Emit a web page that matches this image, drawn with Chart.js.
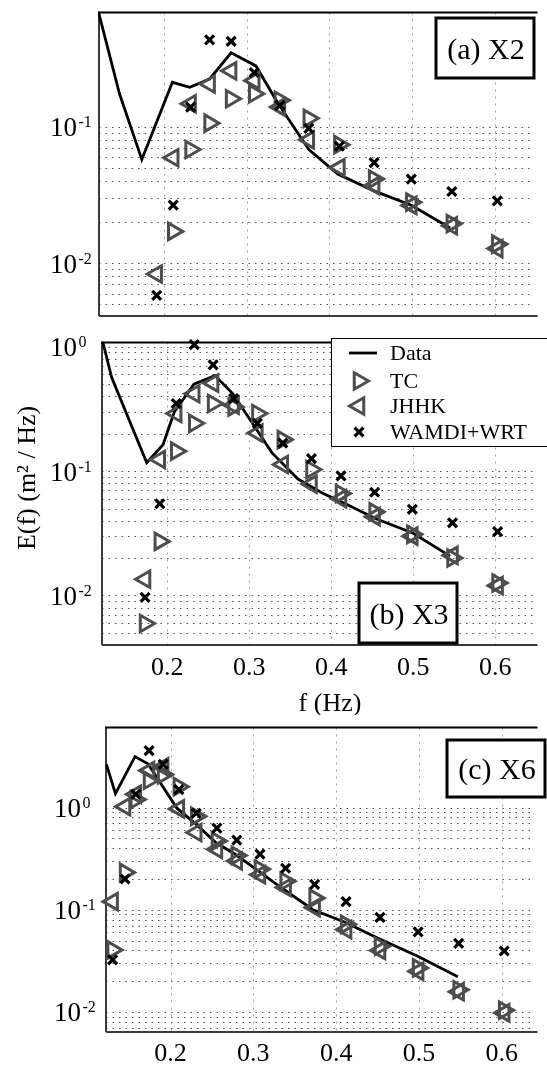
<!DOCTYPE html>
<html><head><meta charset="utf-8">
<script src="https://cdn.jsdelivr.net/npm/chart.js@4.4.0/dist/chart.umd.min.js"></script>
<style>
html,body{margin:0;padding:0;background:#fff;}
#wrap{position:relative;width:547px;height:1068px;overflow:hidden;background:#fff;}
canvas{position:absolute;left:0;}
</style></head><body>
<div id="wrap">
<canvas id="ca" width="547" height="330" style="top:0px;width:547px;height:330px"></canvas>
<canvas id="cb" width="547" height="385" style="top:330px;width:547px;height:385px"></canvas>
<canvas id="cc" width="547" height="353" style="top:715px;width:547px;height:353px"></canvas>
</div>
<script>
// ---------- shared ----------
const seriesNames = ['Data', 'TC', 'JHHK', 'WAMDI+WRT'];
const xTicks = [0.2, 0.3, 0.4, 0.5, 0.6];
const xTickLabels = ['0.2', '0.3', '0.4', '0.5', '0.6'];
const xTitle = 'f (Hz)';
const yTitle = 'E(f) (m\u00B2 / Hz)';

// ---------- panel (a) X2 ----------
const fLineA = [0.1203, 0.146, 0.173, 0.210, 0.231, 0.255, 0.281, 0.311, 0.338, 0.375, 0.410, 0.453, 0.499, 0.546];
const eLineA = [0.70, 0.174, 0.0575, 0.211, 0.194, 0.223, 0.347, 0.278, 0.147, 0.068, 0.0449, 0.034, 0.0266, 0.0181];
const fA  = [0.191, 0.211, 0.232, 0.255, 0.281, 0.309, 0.340, 0.375, 0.412, 0.454, 0.499, 0.548, 0.603];
const tcA = [null, 0.0171, 0.068, 0.106, 0.160, 0.174, 0.156, 0.115, 0.0738, 0.0413, 0.028, 0.0195, 0.0138];
const jhA = [0.00834, 0.0592, 0.147, 0.205, 0.256, 0.217, 0.139, 0.080, 0.0501, 0.037, 0.0265, 0.0188, 0.0128];
const wwA = [0.00582, 0.0266, 0.139, 0.431, 0.421, 0.249, 0.143, 0.097, 0.0718, 0.0545, 0.0413, 0.0335, 0.0286];
const yTicksA = [0.01, 0.1];

// ---------- panel (b) X3 ----------
const fLineB = [0.1214, 0.1322, 0.152, 0.175, 0.1949, 0.2088, 0.2326, 0.2583, 0.2802, 0.304, 0.3279, 0.3595, 0.391, 0.413, 0.454, 0.500, 0.545];
const eLineB = [1.1, 0.567, 0.273, 0.117, 0.163, 0.30, 0.50, 0.585, 0.418, 0.242, 0.140, 0.0863, 0.0656, 0.0563, 0.0416, 0.0316, 0.0207];
const fB  = [0.173, 0.191, 0.211, 0.233, 0.256, 0.281, 0.310, 0.341, 0.376, 0.412, 0.453, 0.499, 0.548, 0.603];
const tcB = [0.00596, 0.0272, 0.1445, 0.242, 0.349, 0.328, 0.29, 0.179, 0.103, 0.066, 0.047, 0.031, 0.020, 0.0126];
const jhB = [0.0135, 0.124, 0.29, 0.418, 0.509, 0.338, 0.202, 0.113, 0.0786, 0.060, 0.043, 0.030, 0.021, 0.012];
const wwB = [0.00966, 0.0546, 0.349, 1.04, 0.714, 0.382, 0.242, 0.168, 0.126, 0.0916, 0.0676, 0.0493, 0.0384, 0.0326];
const yTicksB = [0.01, 0.1, 1];

// ---------- panel (c) X6 ----------
const fLineC = [0.1225, 0.1334, 0.157, 0.1726, 0.2079, 0.2314, 0.2549, 0.278, 0.306, 0.333, 0.372, 0.410, 0.450, 0.498, 0.547];
const eLineC = [2.65, 1.37, 3.15, 2.68, 0.98, 0.68, 0.452, 0.349, 0.24, 0.166, 0.100, 0.076, 0.053, 0.0353, 0.0221];
const fC  = [0.130, 0.145, 0.158, 0.174, 0.191, 0.210, 0.231, 0.256, 0.280, 0.308, 0.339, 0.374, 0.412, 0.453, 0.499, 0.548, 0.603];
const tcC = [0.0405, 0.232, 1.2, 1.85, 2.1, 1.6, 0.82, 0.47, 0.34, 0.25, 0.19, 0.13, 0.072, 0.044, 0.027, 0.0165, 0.0104];
const jhC = [0.12, 1.02, 1.35, 2.3, 2.5, 0.97, 0.57, 0.39, 0.30, 0.22, 0.165, 0.105, 0.064, 0.040, 0.025, 0.0158, 0.0098];
const wwC = [0.0324, 0.2, 1.35, 3.61, 2.65, 1.5, 0.88, 0.63, 0.48, 0.35, 0.255, 0.177, 0.12, 0.0843, 0.0608, 0.0469, 0.0395];
const yTicksC = [0.01, 0.1, 1];

// ---------- helpers ----------
const SERIF = '"Liberation Serif", "Times New Roman", serif';
const GREY = '#4d4d4d';

function pts(xs, ys) {
  const out = [];
  xs.forEach((x, i) => { if (ys[i] !== null && ys[i] !== undefined) out.push({x: x, y: ys[i]}); });
  return out;
}
function gridValues(min, top) {
  const out = [];
  let p = Math.pow(10, Math.floor(Math.log10(min)));
  while (p < top * 0.999) {
    for (let m = 1; m <= 9; m++) {
      const v = Number((m * p).toPrecision(6));
      if (v >= min && v <= top * 1.0001) out.push(v);
    }
    p *= 10;
  }
  out.push(top);
  return out;
}
function drawMarker(ctx, style, rot, r, x, y) {
  if (Chart.helpers && Chart.helpers.drawPoint) {
    Chart.helpers.drawPoint(ctx, {pointStyle: style, rotation: rot, radius: r, borderWidth: ctx.lineWidth}, x, y);
    return;
  }
  let rad = rot * Math.PI / 180;
  ctx.beginPath();
  if (style === 'triangle') {
    for (let k = 0; k < 3; k++) {
      const a = rad + k * 2 * Math.PI / 3;
      const px = x + Math.sin(a) * r, py = y - Math.cos(a) * r;
      if (k === 0) ctx.moveTo(px, py); else ctx.lineTo(px, py);
    }
    ctx.closePath();
  } else {
    const o = Math.cos(Math.PI / 4) * r;
    ctx.moveTo(x - o, y - o); ctx.lineTo(x + o, y + o);
    ctx.moveTo(x + o, y - o); ctx.lineTo(x - o, y + o);
  }
  ctx.stroke();
}

function makePanel(P) {
  const yGrid = gridValues(P.ymin, P.yTicks[P.yTicks.length - 1]);
  const plugin = {
    id: 'panel_' + P.id,
    beforeDatasetsDraw(chart) {
      const ctx = chart.ctx, a = chart.chartArea, x = chart.scales.x, y = chart.scales.y;
      ctx.save();
      ctx.lineWidth = 1;
      ctx.strokeStyle = 'rgba(60,60,60,0.9)';
      ctx.setLineDash([1.5, 5]);
      yGrid.forEach(v => {
        const py = Math.round(y.getPixelForValue(v)) + 0.5;
        ctx.beginPath(); ctx.moveTo(a.left, py); ctx.lineTo(a.right, py); ctx.stroke();
      });
      ctx.strokeStyle = 'rgba(140,140,140,0.8)';
      ctx.setLineDash([2, 5]);
      xTicks.forEach(v => {
        const px = Math.round(x.getPixelForValue(v)) + 0.5;
        ctx.beginPath(); ctx.moveTo(px, a.top); ctx.lineTo(px, a.bottom); ctx.stroke();
      });
      ctx.setLineDash([]);
      ctx.strokeStyle = '#3a3a3a';
      ctx.lineWidth = 2;
      ctx.beginPath();
      ctx.moveTo(a.left, a.bottom); ctx.lineTo(a.right + 3, a.bottom);
      ctx.moveTo(a.left, a.top); ctx.lineTo(a.left, a.bottom);
      ctx.stroke();
      ctx.strokeStyle = '#000';
      ctx.beginPath(); ctx.moveTo(a.left - 1, a.top); ctx.lineTo(a.right + 3, a.top); ctx.stroke();
      ctx.restore();
    },
    afterDraw(chart) {
      const ctx = chart.ctx, a = chart.chartArea, x = chart.scales.x, y = chart.scales.y;
      ctx.save();
      ctx.fillStyle = '#000';
      // y tick labels 10^n
      P.yTicks.forEach(v => {
        const py = y.getPixelForValue(v);
        const e = Math.round(Math.log10(v));
        ctx.font = '27px ' + SERIF;
        ctx.textAlign = 'left'; ctx.textBaseline = 'alphabetic';
        ctx.fillText('10', P.labelX, py + 9.5);
        const w = ctx.measureText('10').width;
        ctx.font = '16px ' + SERIF;
        ctx.fillText(String(e), P.labelX + w + 1.5, py + 0.5);
      });
      // x tick labels
      if (P.xLabelY !== null) {
        ctx.font = '26px ' + SERIF;
        ctx.textAlign = 'center'; ctx.textBaseline = 'middle';
        xTicks.forEach((v, i) => ctx.fillText(xTickLabels[i], x.getPixelForValue(v), P.xLabelY));
      }
      if (P.showTitles) {
        ctx.font = '26px ' + SERIF;
        ctx.textAlign = 'center'; ctx.textBaseline = 'middle';
        ctx.fillText(xTitle, 330, 374);
        ctx.save();
        ctx.translate(28, 148);
        ctx.rotate(-Math.PI / 2);
        ctx.fillText(yTitle, 0, 0);
        ctx.restore();
      }
      // panel label box
      const b = P.box;
      ctx.fillStyle = '#fff';
      ctx.fillRect(b[0], b[1], b[2], b[3]);
      ctx.strokeStyle = '#000'; ctx.lineWidth = 3;
      ctx.strokeRect(b[0], b[1], b[2], b[3]);
      ctx.fillStyle = '#000';
      ctx.font = '30px ' + SERIF;
      ctx.textAlign = 'center'; ctx.textBaseline = 'middle';
      ctx.fillText(P.label, b[0] + b[2] / 2 + 1, b[1] + b[3] / 2 + 3);
      // legend
      if (P.legend) {
        const L = P.legend;
        ctx.fillStyle = '#fff';
        ctx.fillRect(L.x, L.y, L.w, L.h);
        ctx.strokeStyle = '#000'; ctx.lineWidth = 1;
        ctx.strokeRect(L.x + 0.5, L.y + 0.5, L.w, L.h);
        const ds = chart.data.datasets;
        ctx.font = '22px ' + SERIF;
        ctx.textAlign = 'left'; ctx.textBaseline = 'middle';
        ds.forEach((d, i) => {
          const ey = L.rows[i];
          if (d.showLine) {
            ctx.strokeStyle = d.borderColor; ctx.lineWidth = d.borderWidth;
            ctx.beginPath(); ctx.moveTo(349, ey); ctx.lineTo(377, ey); ctx.stroke();
          } else {
            ctx.strokeStyle = d.pointBorderColor; ctx.fillStyle = 'rgba(0,0,0,0)';
            ctx.lineWidth = d.pointBorderWidth;
            drawMarker(ctx, d.pointStyle, d.pointRotation || 0, d.pointRadius, 359, ey);
          }
          ctx.fillStyle = '#000';
          ctx.fillText(d.label, 390, ey + 1);
        });
      }
      ctx.restore();
    }
  };

  const datasets = [
    {label: seriesNames[0], data: pts(P.fLine, P.eLine), showLine: true, borderColor: '#000', borderWidth: 2.8,
     pointRadius: 0, pointHoverRadius: 0, order: 3, clip: 1, tension: 0},
    {label: seriesNames[1], data: pts(P.f, P.tc), showLine: false, pointStyle: 'triangle', pointRotation: 90,
     pointRadius: 9.5, pointHoverRadius: 9.5, pointBorderWidth: 3, pointBorderColor: GREY,
     pointBackgroundColor: 'rgba(0,0,0,0)', borderColor: GREY, order: 2, clip: false},
    {label: seriesNames[2], data: pts(P.f, P.jh), showLine: false, pointStyle: 'triangle', pointRotation: -90,
     pointRadius: 9.5, pointHoverRadius: 9.5, pointBorderWidth: 3, pointBorderColor: GREY,
     pointBackgroundColor: 'rgba(0,0,0,0)', borderColor: GREY, order: 1, clip: false},
    {label: seriesNames[3], data: pts(P.f, P.ww), showLine: false, pointStyle: 'crossRot', pointRotation: 0,
     pointRadius: 6.3, pointHoverRadius: 6.3, pointBorderWidth: 3.2, pointBorderColor: '#000',
     pointBackgroundColor: '#000', borderColor: '#000', order: 0, clip: false}
  ];

  return new Chart(document.getElementById(P.id), {
    type: 'scatter',
    data: {datasets: datasets},
    options: {
      responsive: false, animation: false, events: [],
      layout: {padding: {left: P.pad[0], top: P.pad[1], right: 0, bottom: P.pad[2]}},
      plugins: {legend: {display: false}, tooltip: {enabled: false}},
      scales: {
        x: {type: 'linear', display: false, min: P.xmin, max: P.xmax},
        y: {type: 'logarithmic', display: false, min: P.ymin, max: P.ymax}
      }
    },
    plugins: [plugin]
  });
}

makePanel({id: 'ca', fLine: fLineA, eLine: eLineA, f: fA, tc: tcA, jh: jhA, ww: wwA,
  yTicks: yTicksA, xmin: 0.1212, xmax: 0.648, ymin: 0.00411, ymax: 0.684,
  pad: [99, 7, 14], labelX: 50, xLabelY: null, showTitles: false,
  box: [436, 18, 98, 60], label: '(a) X2', legend: null});

makePanel({id: 'cb', fLine: fLineB, eLine: eLineB, f: fB, tc: tcB, jh: jhB, ww: wwB,
  yTicks: yTicksB, xmin: 0.1205, xmax: 0.648, ymin: 0.004, ymax: 1.08,
  pad: [102, 8, 70], labelX: 50, xLabelY: 338, showTitles: true,
  box: [359, 253, 98, 60], label: '(b) X3',
  legend: {x: 331, y: 8, w: 220, h: 108, rows: [23, 51, 76, 102]}});

makePanel({id: 'cc', fLine: fLineC, eLine: eLineC, f: fC, tc: tcC, jh: jhC, ww: wwC,
  yTicks: yTicksC, xmin: 0.122, xmax: 0.6396, ymin: 0.00637, ymax: 6.07,
  pad: [106, 10, 36], labelX: 54, xLabelY: 339, showTitles: false,
  box: [447, 25, 98, 57], label: '(c) X6', legend: null});
</script>
</body></html>
